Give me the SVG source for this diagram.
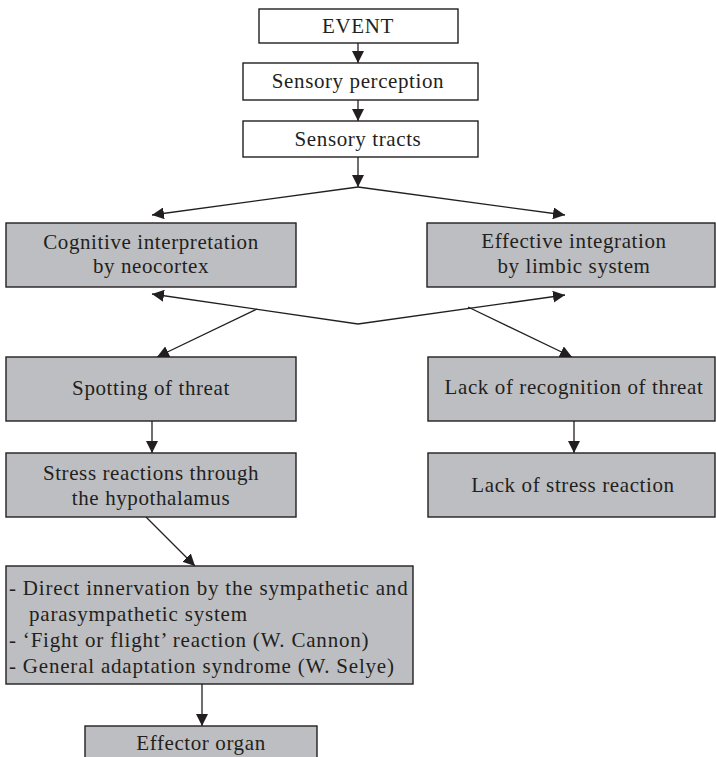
<svg xmlns="http://www.w3.org/2000/svg" width="716" height="757" viewBox="0 0 716 757">
  <style>
    .box { stroke: #231f20; stroke-width: 1.4; }
    .white { fill: #ffffff; }
    .grey { fill: #bdbec1; }
    .label { font-family: "Liberation Serif", "Times New Roman", serif; font-size: 21px; fill: #231f20; letter-spacing: 0.6px; }
    .list { letter-spacing: 0.8px; }
    .mid { text-anchor: middle; }
    .conn { stroke: #231f20; stroke-width: 1.3; fill: none; }
  </style>
  <defs>
    <marker id="arrow" markerUnits="userSpaceOnUse" markerWidth="12" markerHeight="12" refX="12" refY="6" orient="auto">
      <path d="M0,0 L12,6 L0,12 z" fill="#231f20"/>
    </marker>
  </defs>

  <rect width="716" height="757" fill="#ffffff"/>

  <!-- connectors -->
  <g id="connectors" class="conn">
    <line x1="358" y1="43" x2="358" y2="63" marker-end="url(#arrow)"/>
    <line x1="358" y1="100" x2="358" y2="121" marker-end="url(#arrow)"/>
    <line x1="358" y1="157" x2="358" y2="187" marker-end="url(#arrow)"/>
    <line x1="358" y1="187" x2="152" y2="215" marker-end="url(#arrow)"/>
    <line x1="358" y1="187" x2="565" y2="215" marker-end="url(#arrow)"/>
    <line x1="358" y1="324" x2="152" y2="294" marker-end="url(#arrow)"/>
    <line x1="358" y1="324" x2="565" y2="295" marker-end="url(#arrow)"/>
    <line x1="257" y1="309" x2="157" y2="357" marker-end="url(#arrow)"/>
    <line x1="468" y1="307" x2="572" y2="357" marker-end="url(#arrow)"/>
    <line x1="152" y1="421" x2="152" y2="453" marker-end="url(#arrow)"/>
    <line x1="574" y1="421" x2="574" y2="453" marker-end="url(#arrow)"/>
    <line x1="146" y1="517" x2="195" y2="566" marker-end="url(#arrow)"/>
    <line x1="202" y1="684" x2="202" y2="726" marker-end="url(#arrow)"/>
  </g>

  <g id="event">
    <rect class="box white" x="259" y="9" width="199" height="34"/>
    <text class="label mid" x="358" y="33">EVENT</text>
  </g>

  <g id="sensory-perception">
    <rect class="box white" x="243" y="63" width="235" height="37"/>
    <text class="label mid" x="358" y="88">Sensory perception</text>
  </g>

  <g id="sensory-tracts">
    <rect class="box white" x="243" y="121" width="235" height="36"/>
    <text class="label mid" x="358" y="146">Sensory tracts</text>
  </g>

  <g id="cognitive">
    <rect class="box grey" x="6" y="223" width="290" height="64"/>
    <text class="label mid" x="151" y="249">Cognitive interpretation</text>
    <text class="label mid" x="151" y="273">by neocortex</text>
  </g>

  <g id="effective">
    <rect class="box grey" x="427" y="223" width="288" height="64"/>
    <text class="label mid" x="574" y="248">Effective integration</text>
    <text class="label mid" x="574" y="273">by limbic system</text>
  </g>

  <g id="spotting">
    <rect class="box grey" x="6" y="357" width="290" height="64"/>
    <text class="label mid" x="151" y="395">Spotting of threat</text>
  </g>

  <g id="lack-recognition">
    <rect class="box grey" x="428" y="357" width="287" height="64"/>
    <text class="label mid" x="574" y="394">Lack of recognition of threat</text>
  </g>

  <g id="stress-reactions">
    <rect class="box grey" x="6" y="453" width="290" height="64"/>
    <text class="label mid" x="151" y="480">Stress reactions through</text>
    <text class="label mid" x="151" y="505">the hypothalamus</text>
  </g>

  <g id="lack-stress">
    <rect class="box grey" x="428" y="453" width="287" height="64"/>
    <text class="label mid" x="573" y="492">Lack of stress reaction</text>
  </g>

  <g id="responses">
    <rect class="box grey" x="6" y="566" width="407" height="118"/>
    <text class="label list" x="9" y="595">- Direct innervation by the sympathetic and</text>
    <text class="label list" x="29" y="621">parasympathetic system</text>
    <text class="label list" x="9" y="647">- ‘Fight or flight’ reaction (W. Cannon)</text>
    <text class="label list" x="9" y="673">- General adaptation syndrome (W. Selye)</text>
  </g>

  <g id="effector">
    <rect class="box grey" x="85" y="726" width="232" height="40"/>
    <text class="label mid" x="201" y="750">Effector organ</text>
  </g>
</svg>
